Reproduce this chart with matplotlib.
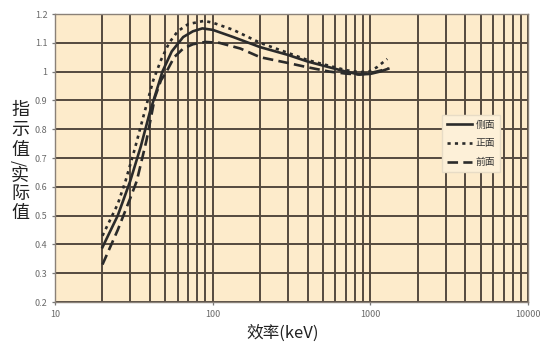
import matplotlib
matplotlib.use("Agg")
import matplotlib.pyplot as plt
import numpy as np

plt.rcParams['font.family'] = ['Noto Sans CJK SC', 'DejaVu Sans']

# energy (keV) and indicated/actual ratio for each orientation
e_side = [20, 25, 30, 35, 40, 45, 48, 55, 65, 75, 86, 100, 135, 200, 300, 400, 550, 700, 850, 1000, 1150, 1300]
r_side = [0.39, 0.50, 0.62, 0.74, 0.86, 0.95, 1.00, 1.07, 1.12, 1.14, 1.15, 1.145, 1.12, 1.085, 1.058, 1.035, 1.015, 1.0, 0.99, 0.992, 1.0, 1.01]

e_front = [20, 25, 28, 32, 37, 42, 47, 53, 60, 70, 88, 100, 135, 200, 300, 400, 550, 700, 850, 980, 1100, 1280]
r_front = [0.43, 0.54, 0.62, 0.73, 0.86, 0.97, 1.04, 1.10, 1.14, 1.165, 1.176, 1.17, 1.145, 1.10, 1.065, 1.04, 1.02, 1.005, 0.998, 1.0, 1.015, 1.044]

e_rear = [20, 25, 30, 33, 38, 43, 47, 51, 57, 65, 75, 90, 110, 150, 200, 300, 400, 550, 700, 850, 1000, 1300]
r_rear = [0.33, 0.45, 0.56, 0.62, 0.76, 0.91, 0.97, 1.0, 1.05, 1.08, 1.095, 1.103, 1.1, 1.08, 1.05, 1.03, 1.015, 1.0, 0.993, 0.99, 0.995, 1.01]

labels = ['侧面', '正面', '前面']
ylabel_chars = ['指', '示', '值', '/', '实', '际', '值']

bg = '#fdebcb'
grid_c = '#54493f'
line_c = '#2b2b2b'

fig = plt.figure(figsize=(5.52, 3.58), dpi=100)
ax = fig.add_axes([55 / 552, 1 - 302 / 358, (528 - 55) / 552, (302 - 14) / 358])
ax.set_facecolor(bg)

ax.plot(e_side, r_side, color=line_c, lw=1.9, ls='-', label=labels[0])
ax.plot(e_front, r_front, color=line_c, lw=1.9, ls=(0, (1.2, 1.6)), label=labels[1])
ax.plot(e_rear, r_rear, color=line_c, lw=1.9, ls=(0, (4, 2)), label=labels[2])

ax.set_xscale('log')
ax.set_xlim(10, 10000)
ax.set_ylim(0.2, 1.2)
ax.set_yticks(np.arange(0.2, 1.21, 0.1))
ax.set_yticklabels(['0.2', '0.3', '0.4', '0.5', '0.6', '0.7', '0.8', '0.9', '1', '1.1', '1.2'])
ax.set_xticks([10, 100, 1000, 10000])
ax.set_xticklabels(['10', '100', '1000', '10000'])
ax.xaxis.set_minor_formatter(matplotlib.ticker.NullFormatter())

ax.grid(True, which='both', axis='x', color=grid_c, lw=1.4)
ax.grid(True, which='major', axis='y', color=grid_c, lw=1.4)
ax.set_axisbelow(True)
ax.tick_params(axis='both', which='both', length=2.5, width=0.9, colors='#777777',
               labelsize=6.5, labelcolor='#6a6a6a', pad=3)
ax.tick_params(axis='x', which='minor', length=0)
for s in ax.spines.values():
    s.set_color('#8a8178')
    s.set_linewidth(1.0)

leg = ax.legend(loc='upper left', bbox_to_anchor=((437 - 55) / 473, 1 - (110 - 14) / 288),
                fontsize=7, frameon=True, facecolor='#fdf0d8', edgecolor='#e8dcc6',
                framealpha=1, fancybox=False, handlelength=2.6, handletextpad=0.4,
                borderpad=0.5, labelspacing=0.9)
for t in leg.get_texts():
    t.set_color('#333333')

# stacked vertical y label
ys = [110, 130, 150, 163, 176, 194, 213]
for ch, yp in zip(ylabel_chars, ys):
    if ch == '/':
        fig.text(20 / 552, 1 - yp / 358, ch, rotation=90, ha='center', va='center',
                 fontsize=11, color='#222222')
    else:
        fig.text(20 / 552, 1 - yp / 358, ch, ha='center', va='center',
                 fontsize=13, color='#222222')

fig.text(283 / 552, 1 - 333 / 358, '效率(keV)', ha='center', va='center',
         fontsize=12, color='#222222')

fig.savefig('out.png', dpi=100, facecolor='white')
